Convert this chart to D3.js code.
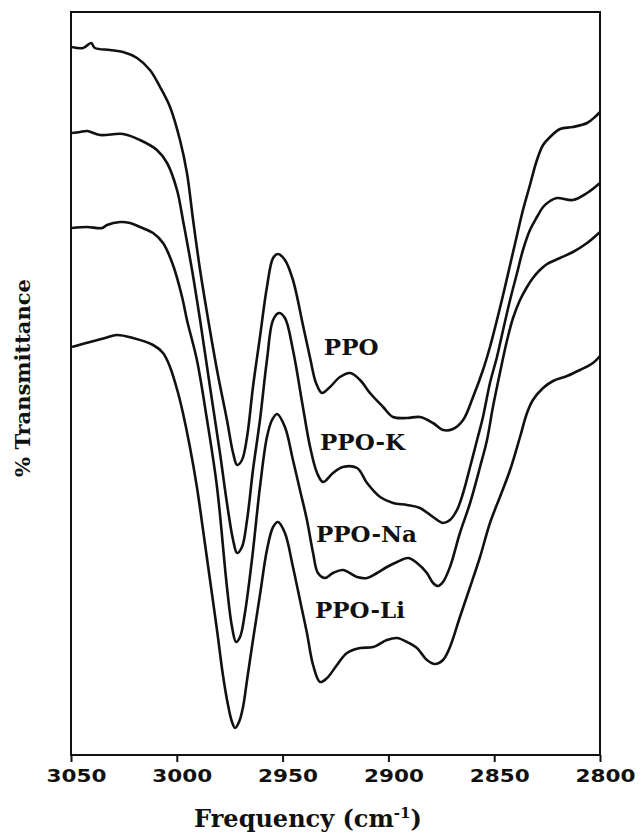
<!DOCTYPE html>
<meta charset="utf-8">
<style>
    body { margin: 0; background: #fff; }
    .line {
        fill: none;
        stroke: #111;
        stroke-width: 2.6px;
        stroke-linejoin: round;
    }
    .frame {
        fill: none;
        stroke: #111;
        stroke-width: 2px;
    }
    .axis--x line { stroke: #111; stroke-width: 2px; }
    .axis--x text {
        font-family: "DejaVu Sans", sans-serif;
        font-weight: bold;
        font-size: 18px;
        fill: #111;
    }
    .label {
        font-family: "DejaVu Serif", serif;
        font-weight: bold;
        fill: #111;
    }
</style>
<body>
<svg width="642" height="833"></svg>
<script src="https://d3js.org/d3.v7.min.js"></script>
<script>

    // [frequency cm-1, % transmittance (offset traces)]
    var ppo = [
        [3049.5,70.8],[3044.3,70.7],[3040.5,71.2],[3038.7,70.7],[3031.6,70.5],[3025.4,70.3],
        [3018.8,69.7],[3012.7,68.5],[3007.9,66.8],[3003.2,64.8],[2998.5,61.5],[2995.2,58.2],
        [2992.3,53.5],[2989.0,48.5],[2985.7,44.2],[2981.0,38.5],[2976.3,33.5],[2973.4,30.2],
        [2971.5,29.0],[2969.2,29.5],[2966.8,31.8],[2964.0,36.8],[2960.7,41.8],[2957.4,46.8],
        [2954.5,49.7],[2952.2,50.1],[2948.9,49.5],[2945.1,47.5],[2940.4,43.0],[2937.0,39.7],
        [2934.2,37.2],[2931.4,36.2],[2927.6,36.8],[2922.9,37.8],[2918.1,38.2],[2913.4,37.5],
        [2908.7,36.2],[2902.5,34.8],[2897.8,33.8],[2891.2,33.7],[2885.1,33.8],[2878.9,33.2],
        [2874.2,32.5],[2869.5,32.6],[2864.7,33.5],[2860.0,35.8],[2855.3,38.5],[2852.0,40.8],
        [2848.7,43.5],[2845.8,46.0],[2842.5,49.0],[2839.2,52.0],[2836.4,54.5],[2833.1,57.0],
        [2829.8,59.5],[2826.9,61.0],[2823.6,61.8],[2818.9,62.6],[2812.8,62.8],[2806.1,63.2],
        [2802.4,63.8],[2800.0,64.3]
    ];

    var ppoK = [
        [3049.5,62.2],[3045.7,62.3],[3042.4,62.4],[3036.3,62.0],[3025.4,62.1],[3017.4,61.5],
        [3009.4,60.5],[3004.6,59.2],[2999.9,56.5],[2997.1,53.5],[2992.8,48.5],[2989.0,43.5],
        [2984.3,36.8],[2979.6,30.2],[2976.3,25.2],[2973.4,21.5],[2971.5,20.2],[2969.2,20.8],
        [2966.8,23.5],[2964.0,28.5],[2960.7,33.5],[2957.4,39.5],[2954.5,43.5],[2951.7,44.2],
        [2948.9,43.7],[2945.1,40.5],[2940.4,34.8],[2937.0,30.8],[2933.7,28.2],[2930.9,27.3],
        [2926.2,28.2],[2921.5,28.8],[2914.8,28.7],[2910.1,27.2],[2903.9,25.8],[2897.8,25.2],
        [2891.2,25.0],[2885.1,24.7],[2878.9,23.8],[2874.2,23.2],[2870.9,23.5],[2867.6,24.5],
        [2864.7,26.2],[2861.4,28.8],[2858.1,31.5],[2855.3,33.8],[2852.0,37.2],[2848.7,39.8],
        [2845.8,42.5],[2842.5,45.5],[2839.2,48.2],[2836.4,50.5],[2833.1,52.5],[2829.8,53.8],
        [2826.9,54.8],[2823.6,55.4],[2820.3,55.7],[2812.8,55.5],[2806.1,56.2],[2800.0,57.2]
    ];

    var ppoNa = [
        [3049.5,52.7],[3042.4,52.8],[3035.3,52.7],[3033.0,53.0],[3026.8,53.3],[3022.1,53.2],
        [3017.4,52.8],[3011.2,52.2],[3006.5,51.2],[3001.8,49.0],[2997.5,45.8],[2995.2,43.5],
        [2990.5,39.5],[2985.7,33.5],[2981.0,26.8],[2976.3,16.8],[2973.9,12.8],[2972.0,11.3],
        [2970.1,11.8],[2967.8,14.2],[2964.5,19.5],[2960.7,26.8],[2957.4,31.8],[2955.0,33.5],
        [2952.6,34.1],[2948.9,32.8],[2945.1,29.5],[2941.8,26.5],[2938.5,23.5],[2935.6,20.2],
        [2933.3,18.2],[2930.0,17.7],[2926.2,18.2],[2921.5,18.5],[2914.8,17.8],[2910.1,17.7],
        [2905.4,18.2],[2900.7,18.8],[2895.9,19.3],[2890.7,19.7],[2886.5,19.2],[2881.8,18.2],
        [2878.9,17.2],[2876.6,16.9],[2874.2,17.3],[2870.9,18.8],[2866.2,22.2],[2861.4,25.2],
        [2856.7,28.8],[2853.4,31.5],[2850.6,34.8],[2847.3,38.2],[2843.9,41.5],[2841.1,43.7],
        [2837.8,45.5],[2834.5,46.8],[2831.7,47.7],[2828.4,48.5],[2825.0,49.1],[2818.9,49.7],
        [2812.8,50.3],[2806.1,51.2],[2800.0,52.3]
    ];

    var ppoLi = [
        [3049.5,40.8],[3041.0,41.3],[3033.9,41.7],[3028.3,42.0],[3020.7,41.7],[3011.2,41.0],
        [3006.5,40.2],[3003.2,38.8],[2999.4,36.2],[2997.1,34.2],[2993.8,30.8],[2990.5,26.8],
        [2987.6,22.5],[2984.3,17.5],[2981.0,12.5],[2978.2,8.0],[2975.8,5.0],[2973.9,3.3],
        [2972.5,2.7],[2970.6,3.3],[2968.7,4.8],[2966.8,7.5],[2964.0,11.5],[2960.7,16.0],
        [2957.4,20.5],[2954.5,22.8],[2952.2,23.3],[2948.9,22.2],[2945.1,18.8],[2941.8,15.5],
        [2938.5,12.2],[2935.6,9.0],[2932.3,7.3],[2929.0,7.7],[2924.3,9.0],[2919.6,10.2],
        [2913.4,10.7],[2907.3,10.8],[2900.7,11.5],[2895.9,11.7],[2891.2,11.3],[2886.5,10.7],
        [2881.8,9.5],[2878.0,9.1],[2874.2,9.5],[2870.9,10.8],[2866.2,13.8],[2861.4,16.8],
        [2856.7,19.8],[2852.0,23.2],[2847.3,25.8],[2842.5,28.5],[2837.8,31.8],[2834.5,34.2],
        [2831.7,35.5],[2826.9,36.7],[2822.2,37.4],[2815.6,37.9],[2809.5,38.5],[2803.3,39.2],
        [2800.0,39.9]
    ];

    var seriesNames = ["PPO", "PPO-K", "PPO-Na", "PPO-Li"];
    // label anchor in data units: [frequency, transmittance]
    var labelPos = [[2930.5, 40.0], [2932.3, 30.5], [2934.2, 21.3], [2934.7, 13.7]];
    var xTicks = [3050, 3000, 2950, 2900, 2850, 2800];

    var svg = d3.select("svg"),
        margin = {top: 12, right: 42, bottom: 78, left: 71},
        width = +svg.attr("width") - margin.left - margin.right,
        height = +svg.attr("height") - margin.top - margin.bottom;

    var x = d3.scaleLinear().domain([3050, 2800]).range([0, width]),
        y = d3.scaleLinear().domain([0, 74.3]).range([height, 0]);

    var line = d3.line()
        .x(function (d) { return x(d[0]); })
        .y(function (d) { return y(d[1]); })
        .curve(d3.curveCatmullRom.alpha(0.5));

    var g = svg.append("g")
        .attr("transform", "translate(" + margin.left + "," + margin.top + ")");

    var xAxis = d3.axisBottom(x)
        .tickValues(xTicks)
        .tickSize(7)
        .tickPadding(7)
        .tickFormat(d3.format("d"));

    var ax = g.append("g")
        .attr("class", "axis axis--x")
        .attr("transform", "translate(0," + height + ")")
        .call(xAxis);
    ax.select(".domain").remove();
    ax.selectAll("text")
        .attr("dx", 5)
        .attr("textLength", 60)
        .attr("lengthAdjust", "spacingAndGlyphs");

    g.append("rect")
        .attr("class", "frame")
        .attr("width", width)
        .attr("height", height);

    [ppo, ppoK, ppoNa, ppoLi].forEach(function (s) {
        g.append("path")
            .datum(s)
            .attr("class", "line")
            .attr("d", line);
    });

    // series labels
    seriesNames.forEach(function (name, i) {
        g.append("text")
            .attr("class", "label")
            .attr("x", x(labelPos[i][0]))
            .attr("y", y(labelPos[i][1]))
            .style("font-size", "23px")
            .text(name);
    });

    // axis titles
    var xt = svg.append("text")
        .attr("class", "label")
        .attr("x", 308)
        .attr("y", 827)
        .style("font-size", "24px")
        .style("text-anchor", "middle");
    xt.append("tspan").text("Frequency (cm");
    xt.append("tspan").attr("dy", -9).style("font-size", "15px").text("-1");
    xt.append("tspan").attr("dy", 9).text(")");

    svg.append("text")
        .attr("class", "label")
        .attr("transform", "translate(30," + 378 + ") rotate(-90)")
        .style("font-size", "21px")
        .style("text-anchor", "middle")
        .text("% Transmittance");

</script>
</body>
